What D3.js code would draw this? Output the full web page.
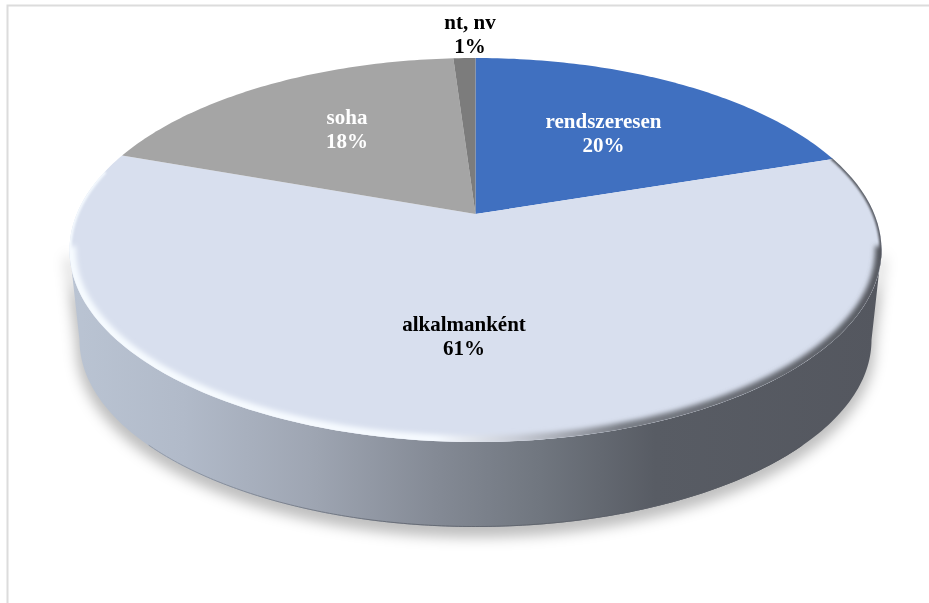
<!DOCTYPE html>
<html><head><meta charset="utf-8">
<script src="https://cdn.jsdelivr.net/npm/d3@7"></script>
<style>html,body{margin:0;padding:0;background:#fff;overflow:hidden}svg{display:block}</style>
</head><body><svg id="c" width="929" height="603"></svg>
<script>
const categories = ["rendszeresen", "alkalmanként", "soha", "nt, nv"];
const values = [19.9, 60.5, 18.49, 1.05];
const colors = ["#3f6fc0", "#d8dfee", "#a5a5a5", "#7b7b7b"];
const labelColors = ["#ffffff", "#000000", "#ffffff", "#000000"];

const W = 929, H = 603;
const cx = 475.5, apexY = 214, topY = 58, botY = 442, rimRx = 406;
const rimCy = (topY + botY) / 2, rimRy = (botY - topY) / 2;
const baseCx = 475.5, baseCy = 340, baseRx = 396, baseRy = 187;
const labelPos = [[603.5, 128], [464, 331], [347, 124], [470, 29]];
const lineGap = 23.5;

const svg = d3.select("#c");
const defs = svg.append("defs");

// perspective projection of the unit disc on to the screen
const ratio = (botY - apexY) / (apexY - topY);
const k = (ratio - 1) / (ratio + 1);
const B = (apexY - topY) * (1 + k), A = rimRx * Math.sqrt(1 - k * k);
const project = (a, r = 1) => {
  const u = r * Math.sin(a), v = r * Math.cos(a), w = 1 + k * v;
  return [cx + A * u / w, apexY - B * v / w];
};
const line = d3.line();
const ellipsePts = (ex, ey, rx, ry, a0, a1) =>
  d3.range(0, 181).map(i => {
    const t = a0 + (a1 - a0) * i / 180;
    return [ex + rx * Math.cos(t), ey + ry * Math.sin(t)];
  });

// defs
const addGrad = (id, stops) => {
  const g = defs.append("linearGradient").attr("id", id)
    .attr("gradientUnits", "userSpaceOnUse").attr("x1", 70).attr("x2", 882).attr("y1", 0).attr("y2", 0);
  stops.forEach(([o, c]) => g.append("stop").attr("offset", o).attr("stop-color", c));
};
addGrad("side", [[0, "#bac4d3"], [0.14, "#b1bac9"], [0.3, "#9ea5b2"], [0.45, "#848a95"], [0.58, "#70767f"], [0.72, "#585c64"], [1, "#54575f"]]);
addGrad("bevel", [[0, "#f6fbff"], [0.45, "#f6faff"], [0.55, "#c8ccd6"], [0.68, "#777b83"], [1, "#54575e"]]);
addGrad("edge", [[0, "#a3adbc"], [0.4, "#686d77"], [1, "#4f5259"]]);
const blur = (id, sd) => defs.append("filter").attr("id", id)
  .attr("filterUnits", "userSpaceOnUse").attr("x", 0).attr("y", 0).attr("width", W).attr("height", H)
  .append("feGaussianBlur").attr("stdDeviation", sd);
blur("blurS", 7); blur("blurB", 2.4); blur("blurT", 1); blur("soft", 0.45);

const rimFull = ellipsePts(cx, rimCy, rimRx, rimRy, 0, 2 * Math.PI);
defs.append("clipPath").attr("id", "face").append("path").attr("d", line(rimFull) + "Z");

// frame
svg.append("rect").attr("width", W).attr("height", H).attr("fill", "#fff");
svg.append("path").attr("d", `M7.5 ${H}V5.5H${W}`).attr("fill", "none").attr("stroke", "#dcdcdc").attr("stroke-width", 2);

// shadow and side wall
const wall = [...ellipsePts(baseCx, baseCy, baseRx, baseRy, 0, Math.PI),
  ...ellipsePts(cx, rimCy, rimRx, rimRy, Math.PI, 0)];
svg.append("path").attr("d", line(wall) + "Z").attr("transform", "translate(0,7)")
  .attr("fill", "#000").attr("fill-opacity", 0.24).attr("stroke", "#000").attr("stroke-opacity", 0.24).attr("stroke-width", 5)
  .attr("filter", "url(#blurS)");
svg.append("path").attr("d", line(wall) + "Z").attr("fill", "url(#side)");
svg.append("path").attr("d", line(ellipsePts(baseCx, baseCy - 0.5, baseRx, baseRy, 0.6, Math.PI - 0.6)))
  .attr("fill", "none").attr("stroke", "url(#edge)").attr("stroke-width", 1).attr("filter", "url(#soft)");

// slices
const pie = d3.pie().sort(null).value(d => d);
const arcs = pie(values);
const gFace = svg.append("g").attr("filter", "url(#soft)");
gFace.selectAll("path.slice").data(arcs).join("path").attr("class", "slice")
  .attr("fill", (d, i) => colors[i])
  .attr("d", d => {
    const n = Math.max(4, Math.ceil((d.endAngle - d.startAngle) * 60));
    const pts = d3.range(n + 1).map(i => project(d.startAngle + (d.endAngle - d.startAngle) * i / n));
    return line([project(0, 0), ...pts]) + "Z";
  });

// bevel along the lower rim, thin towards the sides
const bevelG = svg.append("g").attr("clip-path", "url(#face)");
bevelG.append("path").attr("d", line(ellipsePts(cx, rimCy, rimRx - 1.5, rimRy - 1.5, -0.02, Math.PI + 0.02)))
  .attr("fill", "none").attr("stroke", "url(#bevel)").attr("stroke-width", 10).attr("filter", "url(#blurB)");
[[-0.5, 0.05], [Math.PI - 0.05, Math.PI + 0.42]].forEach(([a0, a1]) =>
  bevelG.append("path").attr("d", line(ellipsePts(cx, rimCy, rimRx, rimRy, a0, a1)))
    .attr("fill", "none").attr("stroke", "url(#bevel)").attr("stroke-width", 4).attr("filter", "url(#blurT)"));

// labels
const text = svg.append("g").attr("font-family", "'Liberation Serif','Times New Roman',serif")
  .attr("font-weight", 700).attr("font-size", 21).attr("text-anchor", "middle").attr("filter", "url(#soft)");
categories.forEach((c, i) => {
  const t = text.append("text").attr("fill", labelColors[i]);
  t.append("tspan").attr("x", labelPos[i][0]).attr("y", labelPos[i][1]).text(c);
  t.append("tspan").attr("x", labelPos[i][0]).attr("y", labelPos[i][1] + lineGap).text(Math.round(values[i]) + "%");
});
</script></body></html>
